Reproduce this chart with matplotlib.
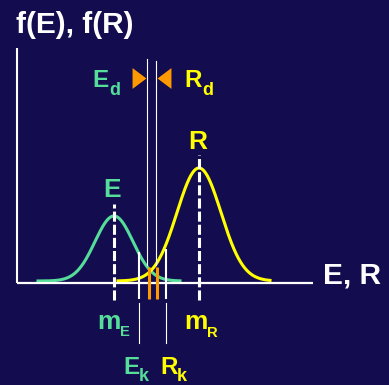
import numpy as np
from matplotlib import pyplot as plt

# colours
bg = '#130d50'
green = '#55dd99'
yellow = '#ffff00'
orange = '#ff9900'

# distribution parameters (x = stress/strength, y = density, arbitrary units)
mean_E, sigma_E, peak_E = 97, 19, 65
mean_R, sigma_R, peak_R = 182, 22, 113
base = 2
range_E = (21, 163)
range_R = (101, 253)

# design values
E_k, R_k = 122, 149      # characteristic values
E_d, R_d = 130.5, 139.5  # design values

plt.rcParams['font.family'] = ['Liberation Sans', 'DejaVu Sans']
plt.rcParams['font.weight'] = 'bold'

fig = plt.figure(figsize=(3.89, 3.85), dpi=100, facecolor=bg)
ax = fig.add_axes([0, 0, 1, 1])
ax.set_facecolor(bg)
ax.set_xlim(-17, 372)
ax.set_ylim(-102, 283)
ax.axis('off')

# curves
xe = np.linspace(*range_E, 300)
ax.plot(xe, base + peak_E * np.exp(-(xe - mean_E) ** 2 / (2 * sigma_E ** 2)), color=green, lw=2.2)
xr = np.linspace(*range_R, 300)
ax.plot(xr, base + peak_R * np.exp(-(xr - mean_R) ** 2 / (2 * sigma_R ** 2)), color=yellow, lw=2.2)

# axes
ax.plot([0, 0], [0, 235], color='white', lw=1.5, solid_capstyle='butt')
ax.plot([0, 296], [0, 0], color='white', lw=1.6, solid_capstyle='butt')

# mean lines
ax.plot([mean_E, mean_E], [-17, 79], color='white', lw=2.2, dashes=(3.3, 1.0))
ax.plot([mean_R, mean_R], [-17, 128], color='white', lw=2.2, dashes=(3.3, 1.0))

# characteristic values
ax.plot([E_k, E_k], [-16, 31], color='white', lw=1.5, solid_capstyle='butt')
ax.plot([R_k, R_k], [-16, 34], color='white', lw=1.5, solid_capstyle='butt')
ax.plot([E_k, E_k], [-20, -60], color='white', lw=0.8)
ax.plot([R_k, R_k], [-20, -60], color='white', lw=0.8)

# design values
ax.plot([E_d, E_d], [18, 224], color='white', lw=0.8)
ax.plot([R_d, R_d], [18, 222], color='white', lw=0.8)
ax.plot([E_d + 1.5, E_d + 1.5], [-16, 16], color=orange, lw=2.2, solid_capstyle='butt')
ax.plot([R_d + 0.5, R_d + 0.5], [-16, 16], color=orange, lw=2.2, solid_capstyle='butt')

tri_r = [(-2, -3), (2, 0), (-2, 3), (-2, -3)]
tri_l = [(2, -3), (-2, 0), (2, 3), (2, -3)]
ax.plot(E_d - 8, 205.5, marker=tri_r, ms=15, color=orange, mec='none')
ax.plot(R_d + 8, 205.5, marker=tri_l, ms=15, color=orange, mec='none')

# labels
ax.text(-1, 249.7, 'f(E), f(R)', color='white', fontsize=21.5)
ax.text(306, 0, 'E, R', color='white', fontsize=21.5)
ax.text(mean_E - 1.5, 86, 'E', color=green, fontsize=19, ha='center')
ax.text(mean_R - 1, 134, 'R', color=yellow, fontsize=19, ha='center')


def label(x, y, main, sub, color, size, subsize, dx, dy):
    ax.text(x, y, main, color=color, fontsize=size)
    ax.text(x + dx, y - dy, sub, color=color, fontsize=subsize)


label(75, 196.3, 'E', 'd', green, 17.5, 13, 17, 8)
label(167, 196.3, 'R', 'd', yellow, 17.5, 13, 18, 8)
label(80, -46, 'm', 'E', green, 19, 10.6, 23, 7.5)
label(167, -46, 'm', 'R', yellow, 19, 10.6, 23, 8)
label(106, -91, 'E', 'k', green, 17.5, 13, 16, 7)
label(143, -91, 'R', 'k', yellow, 17.5, 13, 17, 7)

plt.savefig('out.png', dpi=100, facecolor=bg)
